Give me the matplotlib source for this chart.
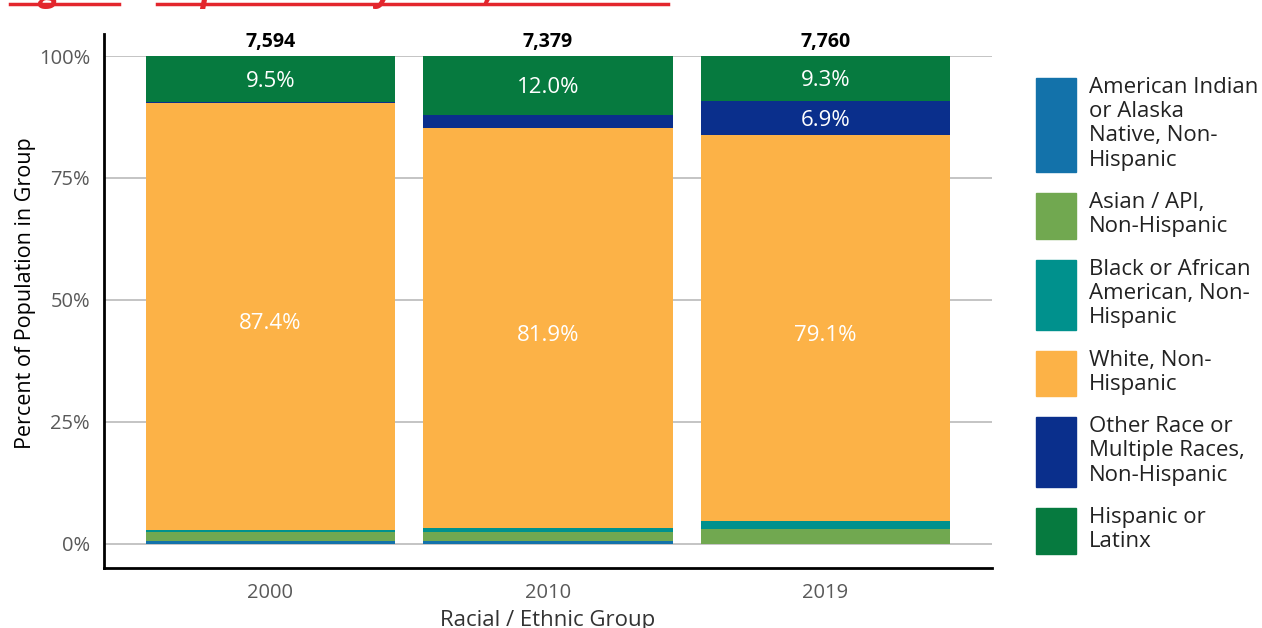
import numpy as np
import matplotlib.pyplot as plt
from matplotlib.patches import Rectangle
from matplotlib.lines import Line2D

plt.rcParams['font.family'] = ['Open Sans', 'DejaVu Sans']

# Data (percent of population)
years = ['2000', '2010', '2019']
totals = ['7,594', '7,379', '7,760']
groups = ['American Indian\nor Alaska\nNative, Non-\nHispanic',
          'Asian / API,\nNon-Hispanic',
          'Black or African\nAmerican, Non-\nHispanic',
          'White, Non-\nHispanic',
          'Other Race or\nMultiple Races,\nNon-Hispanic',
          'Hispanic or\nLatinx']
aian = [0.7, 0.7, 0.1]
asian = [1.7, 1.7, 3.0]
black = [0.5, 0.9, 1.6]
white = [87.4, 81.9, 79.1]
other = [0.2, 2.8, 6.9]
hispanic = [9.5, 12.0, 9.3]
series = [aian, asian, black, white, other, hispanic]
colors = ['#1372aa', '#71a850', '#00918d', '#fcb247', '#0a2f8c', '#067a3f']
# which segments get a value label (series index, bar index)
labelled = [(3, 0), (3, 1), (3, 2), (5, 0), (5, 1), (5, 2), (4, 2)]

W, H = 1262, 628
fig = plt.figure(figsize=(W / 100, H / 100), dpi=100)
ax = fig.add_axes([104 / W, 1 - 568 / H, (992 - 104) / W, (568 - 56) / H])

x = np.arange(len(years))
bottom = np.zeros(len(years))
bottoms = []
for vals, c in zip(series, colors):
    bottoms.append(bottom.copy())
    ax.bar(x, vals, 0.9, bottom=bottom, color=c, zorder=3)
    bottom += np.array(vals)

for s, i in labelled:
    v = series[s][i]
    shift = -1.5 if s == 3 else -0.4
    ax.text(x[i], bottoms[s][i] + v / 2 + shift, f'{v:.1f}%', ha='center', va='center',
            color='white', fontsize=16, zorder=4)

for i, t in enumerate(totals):
    ax.text(x[i], 102.8, t, ha='center', va='center', fontsize=14,
            fontweight='bold', color='black')

ax.set_xlim(-0.6, 2.6)
ax.set_ylim(-4.92, 100)
ax.set_yticks([0, 25, 50, 75, 100])
ax.set_yticklabels(['0%', '25%', '50%', '75%', '100%'])
ax.set_xticks(x)
ax.set_xticklabels(years)
ax.tick_params(length=0, labelsize=14.5, labelcolor='#595959', pad=10)
ax.tick_params(axis='x', pad=11)
ax.grid(axis='y', color='#bfbfbf', linewidth=1.3, zorder=0)
for sp in ['top', 'right']:
    ax.spines[sp].set_visible(False)
for sp in ['left', 'bottom']:
    ax.spines[sp].set_linewidth(2)
    ax.spines[sp].set_color('black')
ax.spines['left'].set_bounds(-4.92, 104.5)
ax.set_ylabel('Percent of Population in Group', fontsize=15.5, color='black', labelpad=2)
ax.yaxis.label.set_y(0.537)
ax.set_xlabel('Racial / Ethnic Group', fontsize=16, color='#333333', labelpad=5)

# custom legend
ytop = 78
for g, c in zip(groups, colors):
    n = g.count('\n') + 1
    h = 24.3 * n - 3
    fig.patches.append(Rectangle((1036 / W, 1 - (ytop + h) / H), 40 / W, h / H,
                                 transform=fig.transFigure, color=c))
    fig.text(1089 / W, 1 - (ytop - 1) / H, g, ha='left', va='top', fontsize=16,
             color='#222222', linespacing=1.2)
    ytop += h + 21

# title, cut off at the top edge as in the source image
red = '#e3262d'
base = 1.0
fig.text(10 / W, base, 'Figure', fontsize=26, fontweight='bold', style='italic',
         color=red, va='baseline')
fig.text(124 / W, base, '3\u2013', fontsize=22, fontweight='bold', color='black',
         va='baseline')
fig.text(159 / W, base, 'Population by Race, 2000-2019', fontsize=26,
         fontweight='bold', style='italic', color=red, va='baseline')
fig.add_artist(Line2D([10 / W, 119 / W], [1 - 4 / H] * 2, color=red, lw=2.5))
fig.add_artist(Line2D([157 / W, 668 / W], [1 - 4 / H] * 2, color=red, lw=2.5))

fig.savefig('out.png', dpi=100)
